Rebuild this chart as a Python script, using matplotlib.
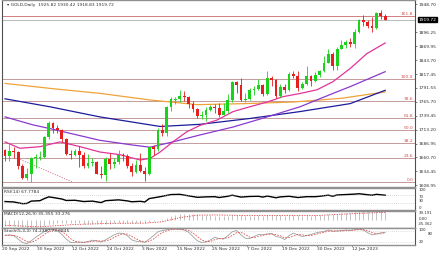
import numpy as np
import matplotlib
matplotlib.use('Agg')
import matplotlib.pyplot as plt
from matplotlib.transforms import blended_transform_factory

# ---------------- data ----------------
dates = ["20 Sep 2022", "30 Sep 2022", "12 Oct 2022", "24 Oct 2022", "3 Nov 2022",
         "15 Nov 2022", "25 Nov 2022", "7 Dec 2022", "19 Dec 2022", "30 Dec 2022", "12 Jan 2023"]
date_bars = [0, 8, 16, 24, 32, 40, 48, 56, 64, 72, 80]

opens = [1675, 1664, 1673, 1671, 1644, 1622, 1629, 1660, 1660, 1661, 1699, 1725, 1716, 1712, 1695, 1668,
         1666, 1673, 1666, 1644, 1650, 1652, 1629, 1627, 1657, 1649, 1652, 1665, 1663, 1645, 1634, 1647,
         1636, 1630, 1681, 1676, 1712, 1706, 1755, 1769, 1771, 1777, 1774, 1761, 1751, 1738, 1740, 1750,
         1755, 1754, 1741, 1749, 1768, 1803, 1797, 1768, 1771, 1787, 1789, 1797, 1781, 1810, 1807, 1777,
         1793, 1787, 1817, 1814, 1792, 1798, 1813, 1804, 1815, 1824, 1839, 1855, 1832, 1865, 1872, 1877,
         1875, 1897, 1920, 1916, 1908, 1904, 1932, 1925.82]
highs = [1677, 1688, 1681, 1672, 1649, 1641, 1661, 1668, 1672, 1702, 1729, 1727, 1722, 1715, 1697, 1675,
         1677, 1682, 1671, 1667, 1660, 1654, 1645, 1662, 1669, 1659, 1674, 1670, 1667, 1650, 1656, 1670,
         1642, 1682, 1685, 1717, 1723, 1758, 1774, 1774, 1787, 1786, 1776, 1767, 1753, 1749, 1755, 1760,
         1762, 1763, 1763, 1780, 1805, 1804, 1810, 1782, 1791, 1795, 1808, 1798, 1824, 1814, 1808, 1798,
         1798, 1822, 1824, 1823, 1802, 1833, 1815, 1821, 1826, 1851, 1865, 1859, 1869, 1881, 1882, 1886,
         1902, 1922, 1929, 1919, 1924, 1935, 1938, 1930.42]
lows = [1654, 1654, 1660, 1639, 1621, 1619, 1615, 1641, 1656, 1659, 1696, 1707, 1706, 1690, 1665, 1658,
        1663, 1642, 1640, 1640, 1645, 1629, 1622, 1617, 1639, 1640, 1648, 1655, 1640, 1626, 1632, 1634,
        1616, 1628, 1665, 1673, 1701, 1702, 1748, 1762, 1765, 1767, 1754, 1747, 1735, 1733, 1729, 1748,
        1745, 1737, 1740, 1745, 1765, 1781, 1766, 1765, 1768, 1779, 1787, 1776, 1778, 1795, 1773, 1775,
        1782, 1785, 1810, 1785, 1790, 1797, 1796, 1803, 1812, 1821, 1838, 1825, 1826, 1864, 1867, 1868,
        1867, 1895, 1908, 1904, 1896, 1902, 1922, 1918.83]
closes = [1664, 1673, 1671, 1644, 1622, 1629, 1660, 1660, 1661, 1699, 1725, 1716, 1712, 1695, 1668, 1666,
          1673, 1666, 1644, 1650, 1652, 1629, 1627, 1657, 1649, 1652, 1665, 1663, 1645, 1634, 1647, 1636,
          1630, 1681, 1676, 1712, 1706, 1755, 1771, 1771, 1777, 1774, 1761, 1751, 1738, 1740, 1750, 1755,
          1754, 1741, 1749, 1768, 1803, 1797, 1768, 1771, 1787, 1789, 1797, 1781, 1810, 1807, 1777, 1793,
          1787, 1817, 1814, 1792, 1798, 1813, 1804, 1815, 1824, 1839, 1855, 1832, 1865, 1872, 1877, 1875,
          1897, 1920, 1916, 1908, 1904, 1932, 1926, 1919.72]

# moving averages (bar index, price)
ma_fast_bars = [0, 3.4, 8, 12.6, 17.2, 21.7, 26.3, 30.9, 33.2, 35.5, 38.4, 41.6, 44.6, 48.5, 52.2, 56, 60,
                63.6, 67.5, 71.4, 75, 79, 82.8, 87]
ma_fast = [1690, 1678, 1681, 1690, 1681, 1671, 1666, 1656, 1659, 1671, 1690, 1709, 1721, 1731, 1747, 1756,
           1765, 1775, 1781, 1788, 1803, 1828, 1856, 1876]
ma_mid_bars = [0, 6.4, 10.3, 21.7, 29.3, 33.2, 38.4, 44.6, 52.2, 60, 67.5, 75, 79, 87]
ma_mid = [1737, 1722, 1715, 1693, 1684, 1680, 1690, 1703, 1718, 1737, 1756, 1781, 1794, 1822]
ma_slow_bars = [0, 10.3, 21.7, 33.2, 35.5, 44.6, 56, 67.5, 79, 87]
ma_slow = [1771, 1756, 1737, 1722, 1719, 1723, 1734, 1747, 1762, 1787]
ma_long_bars = [0, 11, 22, 33, 44, 55, 66, 77, 87]
ma_long = [1800, 1790, 1781, 1769, 1760, 1762, 1765, 1772, 1784]

trend_bars = [3.5, 15.3]
trend_prices = [1657, 1615]

fib_low, fib_high = 1615, 1808
fib_levels = [0.0, 23.6, 38.2, 50.0, 61.8, 78.6, 100.0, 161.8]

price_ticks = [1948.70, 1896.25, 1869.95, 1843.70, 1817.45, 1791.55, 1765.70, 1739.45,
               1713.20, 1686.95, 1660.70, 1634.45, 1608.95]
last_price = 1919.72

rsi_bars = [0, 2, 4, 5, 6, 8, 9, 10, 11, 13, 14, 16, 18, 20, 22, 23, 26, 28, 29, 31, 32, 33, 35, 37, 38,
            40, 42, 44, 46, 48, 49, 51, 52, 54, 56, 58, 59, 60, 62, 63, 65, 67, 69, 71, 72, 74, 75, 76,
            78, 80, 81, 83, 84, 85, 86, 87]
rsi_vals = [38, 36, 28, 29, 40, 42, 52, 60, 57, 50, 43, 44, 38, 40, 33, 42, 46, 41, 37, 39, 36, 52, 59,
            67, 71, 72, 65, 58, 60, 61, 57, 63, 68, 59, 62, 63, 59, 64, 56, 60, 63, 57, 61, 61, 63, 68,
            63, 69, 71, 73, 75, 70, 68, 72, 70, 67.78]

macd_main = [-28, -27, -26, -27, -31, -34, -35, -33, -31, -26, -20, -16, -13, -12, -13, -14, -14, -15,
             -16, -16, -16, -18, -19, -17, -16, -15, -13, -12, -12, -13, -13, -13, -14, -9, -6, -1, 3,
             10, 16, 21, 25, 27, 27, 26, 24, 22, 21, 20, 19, 17, 16, 17, 20, 22, 20, 19, 19, 19, 20, 19,
             21, 22, 20, 20, 19, 21, 22, 20, 19, 20, 19, 20, 21, 23, 26, 25, 28, 30, 32, 32, 35, 38,
             39.19, 38, 37, 38, 37, 35.355]
macd_sig_bars = [0, 8, 16, 24, 32, 36, 40, 44, 48, 56, 64, 72, 80, 87]
macd_sig = [-24, -30, -20, -15, -14, -8, 10, 21, 22, 19, 20, 20, 28, 33.276]

stoch_main = [55, 60, 55, 35, 15, 8, 25, 45, 62, 80, 92, 90, 85, 62, 35, 15, 15, 18, 15, 20, 28, 25, 17,
              30, 45, 60, 70, 68, 55, 30, 22, 20, 15, 35, 55, 78, 85, 90, 94, 94, 92, 88, 75, 50, 25, 15,
              18, 30, 45, 38, 35, 55, 78, 85, 60, 40, 38, 50, 62, 60, 65, 68, 50, 45, 32, 55, 70, 60, 50,
              55, 62, 70, 76, 80, 88, 80, 82, 85, 88, 86, 90, 93, 88, 72, 60, 65, 72, 74.24]
stoch_sig = [58, 57, 57, 50, 35, 20, 16, 26, 44, 62, 78, 87, 89, 79, 61, 37, 22, 16, 16, 18, 21, 24, 23,
             24, 31, 45, 58, 66, 64, 51, 36, 24, 19, 23, 35, 56, 73, 84, 90, 93, 93, 91, 85, 71, 50, 30,
             19, 21, 31, 38, 39, 43, 56, 73, 74, 62, 46, 43, 50, 57, 62, 64, 61, 54, 42, 44, 52, 62, 60,
             55, 56, 62, 69, 75, 81, 83, 83, 82, 85, 86, 88, 90, 90, 84, 73, 66, 66, 73.08]

# ---------------- layout ----------------
W, H = 440, 254
fig = plt.figure(figsize=(4.4, 2.54), dpi=100)
fig.patch.set_facecolor('white')
plt.rcParams['font.family'] = ['DejaVu Sans']

def ax_px(x0, y0, x1, y1):
    return fig.add_axes([x0 / W, 1 - y1 / H, (x1 - x0) / W, (y1 - y0) / H])

PX0, PX1 = 2, 415
BAR0, STEP = 5, 4.37
xlim = ((PX0 - BAR0) / STEP, (PX1 - BAR0) / STEP)
FS = 3.2
FSS = 2.8
AXC = '#505050'
SEP = '#909090'
TXT = '#303030'

def style(ax):
    ax.set_xlim(*xlim)
    ax.set_facecolor('white')
    ax.set_xticks([])
    for s in ['top', 'bottom']:
        ax.spines[s].set_color(SEP)
        ax.spines[s].set_linewidth(1.0)
    ax.spines['left'].set_color(AXC)
    ax.spines['left'].set_linewidth(0.8)
    ax.spines['right'].set_color(AXC)
    ax.spines['right'].set_linewidth(0.8)
    ax.yaxis.tick_right()
    ax.tick_params(axis='y', length=1.5, width=0.5, color=AXC, labelsize=FS, pad=1, labelcolor=TXT)

# ---- main price panel ----
ax = ax_px(PX0, 0, PX1, 187)
style(ax)
ax.set_ylim(1605.2, 1956.8)
ax.set_yticks(price_ticks)
ax.set_yticklabels([f"{v:.2f}" for v in price_ticks])

x = np.arange(len(closes))
o = np.array(opens); c = np.array(closes); hi = np.array(highs); lo = np.array(lows)
up = c >= o
GREEN, RED = '#19d219', '#e61e1e'
cols = np.where(up, GREEN, RED)

# fib levels
rng = fib_high - fib_low
for lv in fib_levels:
    p = fib_low + rng * lv / 100.0
    col = '#d08080' if lv == 161.8 else '#c49a9a'
    ax.axhline(p, color=col, lw=0.7, zorder=1)
    ax.text(xlim[1] - 0.4, p, f"{lv:.1f}", fontsize=FS, color='#d05050', ha='right', va='bottom', zorder=2)
ax.plot(trend_bars, trend_prices, color='#e07090', lw=0.6, ls=(0, (1.5, 1.5)), zorder=1)

# last price line
ax.axhline(last_price, color='#b0b0b0', lw=0.6, zorder=1)

# moving averages
ax.plot(ma_long_bars, ma_long, color='#f0a238', lw=0.9, zorder=3)
ax.plot(ma_slow_bars, ma_slow, color='#1c1c9c', lw=0.9, zorder=3)
ax.plot(ma_mid_bars, ma_mid, color='#8a3ad0', lw=0.9, zorder=3)
ax.plot(ma_fast_bars, ma_fast, color='#e0359a', lw=0.9, zorder=3)

# candles
ax.vlines(x, lo, hi, colors=cols, lw=0.6, zorder=4)
body_h = np.maximum(np.abs(c - o), 1.2)
ax.bar(x, body_h, bottom=np.minimum(o, c), width=0.64, color=cols, lw=0, zorder=5)

ax.text(0.012, 0.985, "\u25BE GOLD,Daily  1925.82 1930.42 1918.83 1919.72", transform=ax.transAxes,
        fontsize=FS, color=TXT, ha='left', va='top')
# last price tag
ax.text(1.008, last_price, f"{last_price:.2f}", transform=blended_transform_factory(ax.transAxes, ax.transData),
        fontsize=FS, color='white', ha='left', va='center', clip_on=False,
        bbox=dict(boxstyle='square,pad=0.15', fc='black', ec='black'))

# ---- RSI panel ----
ar = ax_px(PX0, 188, PX1, 210)
style(ar)
ar.set_ylim(-2, 102)
ar.set_yticks([])
ar.plot(rsi_bars, rsi_vals, color='black', lw=1.0)
for lv in (30, 70):
    ar.axhline(lv, color='#b8b8b8', lw=0.5, ls=(0, (1, 2)))
tr = blended_transform_factory(ar.transAxes, ar.transData)
for val, txt, va in [(100, '100', 'top'), (70, '70', 'top'), (30, '30', 'bottom'), (0, '0', 'bottom')]:
    ar.text(1.008, val, txt, transform=tr, fontsize=FSS, color=TXT, ha='left', va=va, clip_on=False)
ar.text(0.006, 0.93, "RSI(14) 67.7784", transform=ar.transAxes, fontsize=FS, color=TXT, va='top')

# ---- MACD panel ----
am = ax_px(PX0, 211, PX1, 228)
style(am)
am.set_ylim(-35.362, 39.191)
am.set_yticks([])
am.vlines(x, 0, macd_main, colors='#b8b8b8', lw=0.6)
am.plot(macd_sig_bars, macd_sig, color='#e04040', lw=0.6, ls=(0, (1.5, 1.5)))
tm = blended_transform_factory(am.transAxes, am.transData)
am.text(1.008, 39.191, "39.191", transform=tm, fontsize=FSS, color=TXT, ha='left', va='top', clip_on=False)
am.text(1.008, 2, "0.00", transform=tm, fontsize=FSS, color=TXT, ha='left', va='center', clip_on=False)
am.text(1.008, -10, "-35.362", transform=tm, fontsize=FSS, color=TXT, ha='left', va='top', clip_on=False)
am.text(0.006, 0.93, "MACD(12,26,9) 35.355 33.276", transform=am.transAxes, fontsize=FS, color=TXT, va='top')

# ---- Stochastic panel ----
ast = ax_px(PX0, 228, PX1, 245)
style(ast)
ast.set_ylim(0, 100)
ast.set_yticks([])
for lv in (20, 80):
    ast.axhline(lv, color='#c0c0c0', lw=0.5, ls=(0, (1, 2)))
ast.plot(x, stoch_main, color='#a0a0a0', lw=0.6)
ast.plot(x, stoch_sig, color='#e05050', lw=0.6, ls=(0, (2, 1.5)))
ts = blended_transform_factory(ast.transAxes, ast.transData)
ast.text(1.008, 101, "100", transform=ts, fontsize=FSS, color=TXT, ha='left', va='top', clip_on=False)
ast.text(1.03, 74, "80", transform=ts, fontsize=FSS, color=TXT, ha='left', va='top', clip_on=False)
ast.text(1.008, 20, "20", transform=ts, fontsize=FSS, color=TXT, ha='left', va='center', clip_on=False)
ast.text(0.006, 0.97, "Stoch(5,3,3) 74.2380 73.0845", transform=ast.transAxes, fontsize=FS, color=TXT, va='top')

# date labels
td = blended_transform_factory(ast.transData, ast.transAxes)
for b, d in zip(date_bars, dates):
    ast.text(b - 0.7, -0.12, d, transform=td, fontsize=FS, color=TXT, ha='left', va='top', clip_on=False)
    ast.plot([b - 0.7, b - 0.7], [0, -0.08], transform=td, color=AXC, lw=0.5, clip_on=False)

fig.savefig('out.png', dpi=100, facecolor='white')
